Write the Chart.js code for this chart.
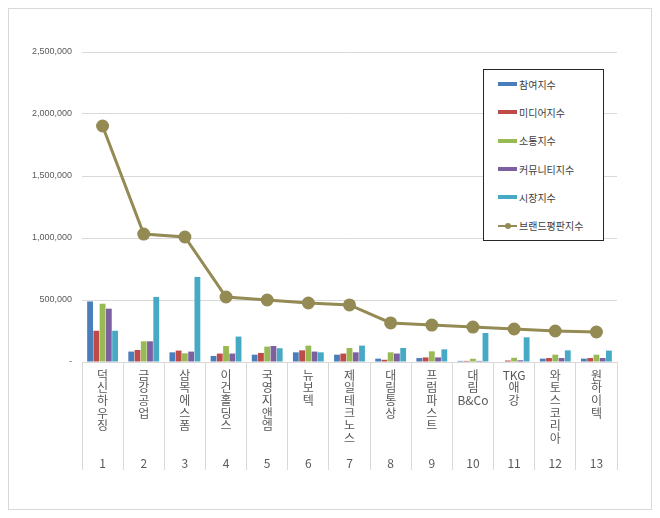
<!DOCTYPE html>
<html>
<head>
<meta charset="utf-8">
<script src="https://cdn.jsdelivr.net/npm/chart.js@4"></script>
<style>
  body { margin: 0; background: #fff; }
  #wrap { position: relative; width: 660px; height: 518px; }
  #frame { position: absolute; left: 8px; top: 8px; width: 642px; height: 500px; border: 1px solid #d9d9d9; }
  #chart { position: absolute; left: 0; top: 0; }
  #legend { position: absolute; left: 483px; top: 69px; width: 119px; border: 1px solid #262626; background: #fff;
            font-family: "Noto Sans CJK KR", "Noto Sans", sans-serif; font-size: 10px; color: #404040; }
  .item { height: 28.3px; display: flex; align-items: center; padding-left: 14px; }
  .swatch { width: 19px; height: 4px; margin-right: 2px; position: relative; }
  .dot { position: absolute; left: 7px; top: -2.5px; width: 6px; height: 6px; border-radius: 50%; }
</style>
</head>
<body>
<div id="wrap">
  <div id="frame"></div>
  <canvas id="chart" width="660" height="518"></canvas>
  <div id="legend"></div>
</div>
<script>
const categories = ['덕신하우징', '금강공업', '삼목에스폼', '이건홀딩스', '국영지앤엠', '뉴보텍', '제일테크노스',
                    '대림통상', '프럼파스트', '대림B&Co', 'TKG애강', '와토스코리아', '원하이텍'];
const ranks = ['1', '2', '3', '4', '5', '6', '7', '8', '9', '10', '11', '12', '13'];

const participation = [488000, 84000, 78000, 49000, 59000, 78000, 59000, 27000, 32000, 9000, 4000, 27000, 27000];
const media = [252000, 97000, 92000, 68000, 73000, 94000, 68000, 18000, 37000, 9000, 12000, 32000, 32000];
const communication = [470000, 167000, 70000, 129000, 124000, 132000, 113000, 78000, 86000, 26000, 34000, 59000, 59000];
const community = [430000, 167000, 84000, 68000, 129000, 84000, 78000, 68000, 37000, 9000, 14000, 32000, 32000];
const market = [252000, 525000, 686000, 205000, 111000, 78000, 132000, 113000, 102000, 234000, 199000, 94000, 92000];
const brand = [1903000, 1032000, 1008000, 524000, 500000, 476000, 460000, 315000, 298000, 282000, 266000, 250000, 242000];

const seriesNames = ['참여지수', '미디어지수', '소통지수', '커뮤니티지수', '시장지수'];
const seriesData = [participation, media, communication, community, market];
const seriesColors = ['#4a7ebb', '#be4b48', '#98b954', '#7d60a0', '#46aac5'];
const lineName = '브랜드평판지수';
const lineColor = '#948a54';

const FONT = '"Noto Sans CJK KR", "Noto Sans", sans-serif';

// stacked (vertical) category text, latin runs kept together, rank on the last row
function stackLabel(name, rank) {
    const parts = name.match(/[A-Za-z&]+|./g);
    while (parts.length < 7) parts.push('');
    parts.push(rank);
    return parts;
}

const datasets = seriesNames.map((name, i) => ({
    type: 'bar',
    label: name,
    data: seriesData[i],
    backgroundColor: seriesColors[i],
    categoryPercentage: 0.76,
    barPercentage: 0.93,
    order: 1
}));
datasets.push({
    type: 'line',
    label: lineName,
    data: brand,
    borderColor: lineColor,
    backgroundColor: lineColor,
    borderWidth: 3,
    pointRadius: 5,
    pointBackgroundColor: lineColor,
    pointBorderColor: lineColor,
    tension: 0,
    order: 0
});

const chart = new Chart(document.getElementById('chart'), {
    data: { labels: categories, datasets: datasets },
    options: {
        responsive: false,
        animation: false,
        layout: { padding: { top: 52, right: 43, left: 0, bottom: 0 } },
        plugins: { legend: { display: false }, tooltip: { enabled: false } },
        scales: {
            x: {
                afterFit: (s) => { s.height = 156; },
                grid: { offset: true, drawOnChartArea: false, drawTicks: true, tickLength: 108, color: '#d9d9d9' },
                border: { display: true, color: '#d9d9d9' },
                ticks: {
                    autoSkip: false,
                    maxRotation: 0,
                    minRotation: 0,
                    padding: -101,
                    color: '#595959',
                    font: { family: FONT, size: 12, lineHeight: 1.05 },
                    callback: (v, i) => stackLabel(categories[i], ranks[i])
                }
            },
            y: {
                min: 0,
                max: 2500000,
                afterFit: (s) => { s.width = 82; },
                grid: { color: '#d9d9d9', drawTicks: false },
                border: { display: false },
                ticks: {
                    stepSize: 500000,
                    padding: 10,
                    color: '#595959',
                    font: { family: '"Liberation Sans", sans-serif', size: 9 },
                    callback: (v) => v === 0 ? '-' : v.toLocaleString('en-US')
                }
            }
        }
    }
});

// legend box
const legend = document.getElementById('legend');
seriesNames.forEach((name, i) => {
    legend.innerHTML += '<div class="item"><span class="swatch" style="background:' + seriesColors[i] + '"></span>' + name + '</div>';
});
legend.innerHTML += '<div class="item"><span class="swatch" style="height:2px;background:' + lineColor + '"><span class="dot" style="top:-2px;background:' + lineColor + '"></span></span>' + lineName + '</div>';
</script>
</body>
</html>
